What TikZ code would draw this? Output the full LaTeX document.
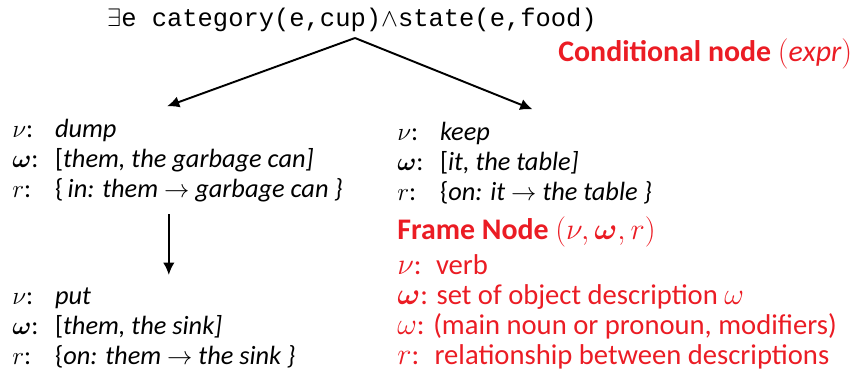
\documentclass[tikz,border=0pt]{standalone}
\usepackage{amsmath,bm}
\usepackage{fontspec}
\setmainfont{Carlito}
\setmonofont{Liberation Mono}
\usetikzlibrary{positioning}
\usetikzlibrary{arrows.meta}
\definecolor{notered}{RGB}{235,28,36}
\newcommand{\slot}[2][1.62em]{\makebox[#1][l]{#2}}
\tikzset{
    every node/.style={font=\fontsize{15}{17}\selectfont},
    frame/.style={
        align=left,
        anchor=base west,
        inner xsep=0pt,
        inner ysep=7pt},
    note/.style={
        frame,
        text=notered,
        font=\fontsize{16.3}{17}\selectfont},
    every edge/.style={
        draw,
        -{Latex[length=7pt,width=6.5pt]},
        line width=1.1pt}}

\begin{document}
\begin{tikzpicture}[x=0.02cm,y=-0.02cm]
    \useasboundingbox (0,0) rectangle (854,386);

    % conditional node
    \node[anchor=base,inner sep=0pt,font=\fontsize{14.5}{17}\selectfont] (cond) at (352,26)
        {\ttfamily $\exists$e category(e,cup)$\wedge$state(e,food)};
    \node[note,inner ysep=0pt,font=\fontsize{17}{17}\selectfont] (condnote) at (558,61)
        {\bfseries Conditional node \mdseries$(\mathit{expr})$};
    \coordinate (fork) at (355,38);

    % frame nodes (anchored on the last line)
    \node[frame] (dump) at (12,197) {%
        \slot{$\nu$:}\itshape dump\\
        \slot{$\bm{\omega}$:}[\itshape them, the garbage can]\\
        \slot{$r$:}\{\,\itshape in: them $\rightarrow$ garbage can \}};
    \node[frame] (keep) at (397,200) {%
        \slot{$\nu$:}\itshape keep\\
        \slot{$\bm{\omega}$:}[\itshape it, the table]\\
        \slot{$r$:}\{\itshape on: it $\rightarrow$ the table \}};
    \node[frame] (put) at (12,364) {%
        \slot{$\nu$:}\itshape put\\
        \slot{$\bm{\omega}$:}[\itshape them, the sink]\\
        \slot{$r$:}\{\itshape on: them $\rightarrow$ the sink \}};

    % legend
    \node[note] (framenote) at (397,364) {%
        {\fontsize{17}{17}\selectfont\textbf{Frame Node} $(\nu,\bm{\omega},r)$}\\[3pt]
        \slot[1.35em]{$\nu$:}verb\\
        $\bm{\omega}$: set of object description $\omega$\\
        $\omega$: (main noun or pronoun, modifiers)\\
        \slot[1.3em]{$r$:}relationship between descriptions};

    \draw (fork) edge ([xshift=-6pt]dump.north);
    \draw (fork) edge ([xshift=4.5pt]keep.north);
    \draw ([xshift=-5pt]dump.south) edge ([xshift=-5pt]dump.south |- put.north);
\end{tikzpicture}
\end{document}
